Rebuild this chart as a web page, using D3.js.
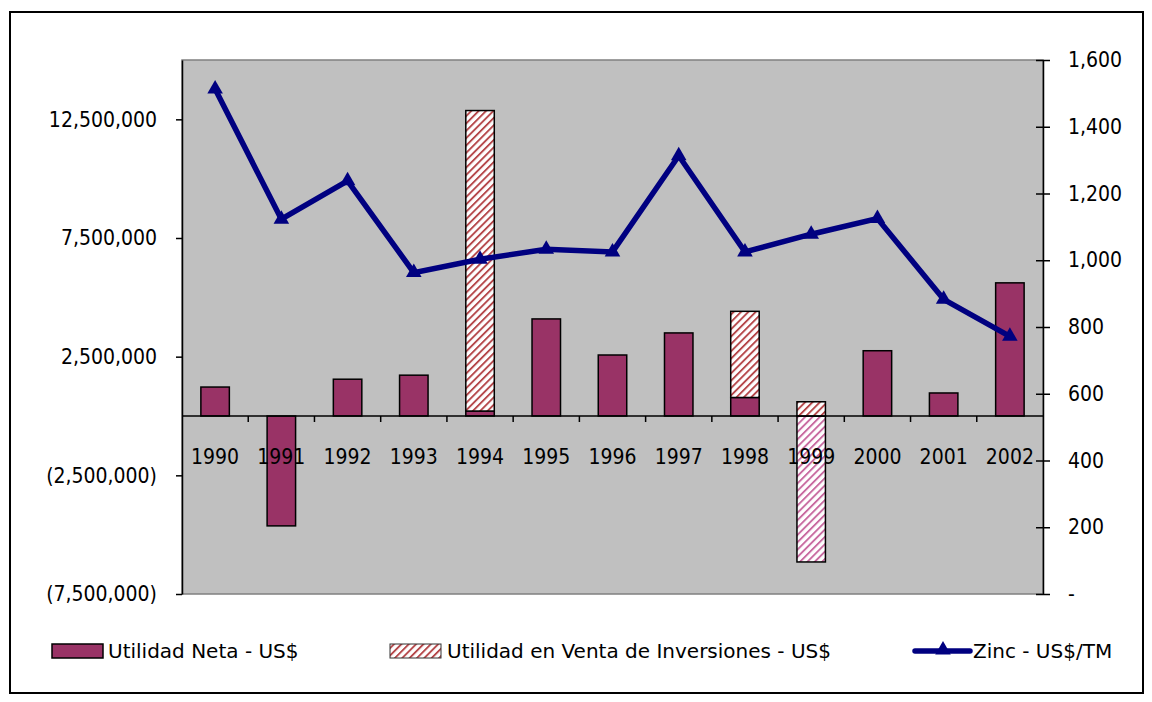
<!DOCTYPE html>
<html>
<head>
<meta charset="utf-8">
<title>Utilidad Neta y Zinc</title>
<script src="https://d3js.org/d3.v7.min.js"></script>
<style>
body { margin: 0; background: #fff; }
text { font-family: "DejaVu Sans Condensed", "DejaVu Sans", sans-serif; font-stretch: condensed; font-size: 21px; fill: #000; }
.legend text { font-family: "DejaVu Sans", sans-serif; font-stretch: normal; font-size: 20px; }
.axis path, .axis line { stroke: #000; stroke-width: 1.5px; }
</style>
</head>
<body>
<svg id="chart" width="1152" height="702"></svg>
<script>
// data
var years = ["1990","1991","1992","1993","1994","1995","1996","1997","1998","1999","2000","2001","2002"];
var utilidadNeta = [1220000, -4630000, 1550000, 1720000, 210000, 4090000, 2570000, 3500000, 780000, -6150000, 2750000, 970000, 5610000];
var ventaInversiones = [0, 0, 0, 0, 12660000, 0, 0, 0, 3630000, 600000, 0, 0, 0];
var zinc = [1513, 1123, 1238, 963, 1003, 1033, 1025, 1313, 1025, 1078, 1125, 883, 772];
var netaHatched = ["1999"]; // this point is drawn with a pink hatch in the original
var leftTicks = [-7500000, -2500000, 2500000, 7500000, 12500000];
var rightTicks = [0, 200, 400, 600, 800, 1000, 1200, 1400, 1600];
var seriesNames = ["Utilidad Neta - US$", "Utilidad en Venta de Inversiones - US$", "Zinc - US$/TM"];

var svg = d3.select("#chart");
var plotLeft = 182, plotRight = 1043, plotTop = 60, plotBottom = 594;

var x = d3.scaleBand().domain(years).range([plotLeft, plotRight]).paddingInner(0.57).paddingOuter(0.285);
var yL = d3.scaleLinear().domain([-7500000, 15000000]).range([plotBottom, plotTop]);
var yR = d3.scaleLinear().domain([0, 1600]).range([plotBottom, plotTop]);

var defs = svg.append("defs");
function hatch(id, color) {
  var p = defs.append("pattern")
      .attr("id", id)
      .attr("patternUnits", "userSpaceOnUse")
      .attr("width", 5.2).attr("height", 5.2)
      .attr("patternTransform", "rotate(45)");
  p.append("rect").attr("width", 5.2).attr("height", 5.2).attr("fill", "#fff");
  p.append("rect").attr("width", 1.9).attr("height", 5.2).attr("fill", color);
}
hatch("hatchRed", "#b5474a");
hatch("hatchPink", "#c86aa0");

// outer frame
svg.append("rect")
    .attr("x", 10).attr("y", 12).attr("width", 1133).attr("height", 681)
    .attr("fill", "#fff").attr("stroke", "#000").attr("stroke-width", 2);

// plot area
svg.append("rect")
    .attr("x", plotLeft).attr("y", plotTop).attr("width", plotRight - plotLeft).attr("height", plotBottom - plotTop)
    .attr("fill", "#c0c0c0").attr("stroke", "#808080").attr("stroke-width", 1.5);

// stacked bars
var table = years.map(function(y, i) {
  return { year: y, neta: utilidadNeta[i], inv: ventaInversiones[i] };
});
var stack = d3.stack().keys(["neta", "inv"]).offset(d3.stackOffsetDiverging);
var layers = stack(table);

svg.append("g").selectAll("g")
    .data(layers)
  .enter().append("g")
  .selectAll("rect")
    .data(function(layer) {
      return layer.filter(function(d) { return d[1] !== d[0]; })
                  .map(function(d) { d.key = layer.key; return d; });
    })
  .enter().append("rect")
    .attr("x", function(d) { return x(d.data.year); })
    .attr("width", x.bandwidth())
    .attr("y", function(d) { return yL(Math.max(d[0], d[1])); })
    .attr("height", function(d) { return Math.abs(yL(d[0]) - yL(d[1])); })
    .attr("fill", function(d) {
      if (d.key === "inv") return "url(#hatchRed)";
      return netaHatched.indexOf(d.data.year) >= 0 ? "url(#hatchPink)" : "#993366";
    })
    .attr("stroke", "#000")
    .attr("stroke-width", 1.5);

// category axis on the zero line
var zeroY = yL(0);
svg.append("line")
    .attr("x1", plotLeft).attr("x2", plotRight).attr("y1", zeroY).attr("y2", zeroY)
    .attr("stroke", "#000").attr("stroke-width", 1.5);
svg.append("g").selectAll("line")
    .data(years.slice(1))
  .enter().append("line")
    .attr("x1", function(d) { return x(d) - x.step() * x.paddingInner() / 2; })
    .attr("x2", function(d) { return x(d) - x.step() * x.paddingInner() / 2; })
    .attr("y1", zeroY).attr("y2", zeroY + 6)
    .attr("stroke", "#000").attr("stroke-width", 1.5);
svg.append("g").selectAll("text")
    .data(years)
  .enter().append("text")
    .attr("x", function(d) { return x(d) + x.bandwidth() / 2; })
    .attr("y", 457)
    .attr("dy", "0.35em")
    .attr("text-anchor", "middle")
    .text(function(d) { return d; });

// left axis
var fmt = d3.format(",");
svg.append("g")
    .attr("class", "axis")
    .attr("transform", "translate(" + plotLeft + ",0)")
    .call(d3.axisLeft(yL).tickValues(leftTicks).tickSize(6).tickSizeOuter(0).tickPadding(19)
      .tickFormat(function(d) { return d < 0 ? "(" + fmt(-d) + ")" : fmt(d); }));

// right axis
var gR = svg.append("g")
    .attr("class", "axis")
    .attr("transform", "translate(" + plotRight + ",0)")
    .call(d3.axisRight(yR).tickValues(rightTicks).tickSize(7).tickSizeOuter(0).tickPadding(18)
      .tickFormat(function(d) { return d === 0 ? "-" : fmt(d); }));
gR.selectAll(".tick line").attr("x1", -7);
svg.selectAll(".axis").attr("font-family", null).attr("font-size", null);

// zinc line
var line = d3.line()
    .x(function(d, i) { return x(years[i]) + x.bandwidth() / 2; })
    .y(function(d) { return yR(d); });
svg.append("path")
    .datum(zinc)
    .attr("d", line)
    .attr("fill", "none")
    .attr("stroke", "#000080")
    .attr("stroke-width", 5.5)
    .attr("stroke-linejoin", "miter");
var tri = d3.symbol().type(d3.symbolTriangle).size(105);
svg.append("g").selectAll("path")
    .data(zinc)
  .enter().append("path")
    .attr("d", tri)
    .attr("transform", function(d, i) { return "translate(" + (x(years[i]) + x.bandwidth() / 2) + "," + yR(d) + ")"; })
    .attr("fill", "#000080");

// legend
var ly = 651;
var legend = svg.append("g").attr("class", "legend");
legend.append("rect").attr("x", 52).attr("y", ly - 7).attr("width", 51).attr("height", 14)
    .attr("fill", "#993366").attr("stroke", "#000").attr("stroke-width", 1.5);
legend.append("text").attr("x", 108).attr("y", ly).attr("dy", "0.35em").text(seriesNames[0]);

legend.append("rect").attr("x", 390).attr("y", ly - 7).attr("width", 51).attr("height", 14)
    .attr("fill", "url(#hatchRed)").attr("stroke", "#333").attr("stroke-width", 1);
legend.append("text").attr("x", 447).attr("y", ly).attr("dy", "0.35em").text(seriesNames[1]);

legend.append("line").attr("x1", 915).attr("x2", 970).attr("y1", ly).attr("y2", ly)
    .attr("stroke", "#000080").attr("stroke-width", 5.5).attr("stroke-linecap", "round");
legend.append("path").attr("d", tri).attr("transform", "translate(943," + (ly - 1) + ")").attr("fill", "#000080");
legend.append("text").attr("x", 973).attr("y", ly).attr("dy", "0.35em").text(seriesNames[2]);
</script>
</body>
</html>
